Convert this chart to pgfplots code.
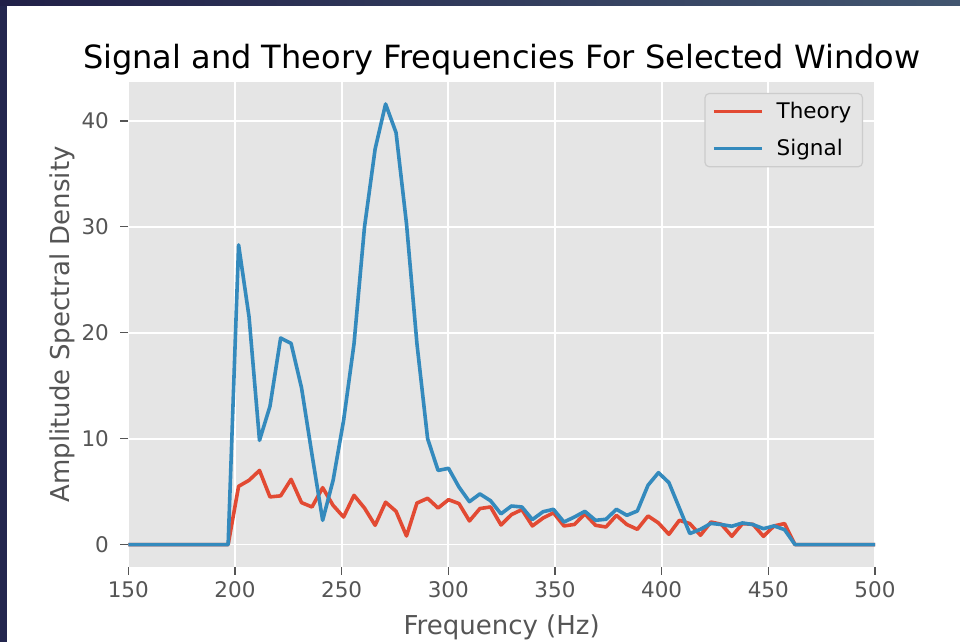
\documentclass[border=0pt]{standalone}
\usepackage{fontspec}
\setmainfont{DejaVu Sans}
\usepackage{pgfplots}
\usepackage{pgfplotstable}
\pgfplotsset{compat=1.18}
\definecolor{thred}{HTML}{E24A33}
\definecolor{sigblue}{HTML}{348ABD}
\definecolor{ggbg}{HTML}{E5E5E5}
\definecolor{ggtext}{HTML}{555555}
\definecolor{legedge}{HTML}{CCCCCC}
\definecolor{navyA}{RGB}{33,32,72}
\definecolor{navyB}{RGB}{66,86,112}
\definecolor{navyL}{RGB}{35,38,78}

\pgfplotstableread{
f      theory signal
147.6  0      0
196.8  0      0
201.7  5.50   28.30
206.6  6.07   21.50
211.5  7.00   9.84
216.4  4.50   13.05
221.4  4.60   19.50
226.3  6.16   19.00
231.2  3.96   14.80
236.1  3.55   8.50
241.1  5.37   2.29
246.0  3.70   6.07
250.9  2.60   11.70
255.8  4.65   18.96
260.7  3.45   29.96
265.7  1.82   37.36
270.6  4.00   41.60
275.5  3.14   38.90
280.4  0.81   30.30
285.3  3.92   18.96
290.3  4.37   10.00
295.2  3.45   7.00
300.1  4.24   7.20
305.0  3.87   5.43
309.9  2.23   4.05
314.8  3.40   4.78
319.8  3.55   4.14
324.7  1.85   2.90
329.6  2.83   3.64
334.5  3.30   3.55
339.4  1.76   2.36
344.4  2.50   3.10
349.3  3.00   3.33
354.2  1.76   2.13
359.1  1.90   2.60
364.0  2.90   3.14
369.0  1.82   2.29
373.9  1.66   2.39
378.8  2.76   3.33
383.7  1.89   2.76
388.6  1.44   3.17
393.6  2.70   5.60
398.5  2.04   6.79
403.4  0.97   5.85
408.3  2.29   3.45
413.2  1.98   1.04
418.2  0.88   1.44
423.1  2.13   2.00
428.0  1.91   1.89
432.9  0.78   1.73
437.9  1.98   2.04
442.8  1.91   1.89
447.7  0.78   1.50
452.7  1.76   1.76
457.6  1.98   1.41
462.5  0      0
502.0  0      0
}\datatable

\begin{document}
\begin{tikzpicture}
\useasboundingbox (0,0) rectangle (480pt,321pt);
\fill[white] (0,0) rectangle (480pt,321pt);
\fill[navyL] (0,0) rectangle (3.5pt,321pt);
\shade[left color=navyA, right color=navyB] (0,318pt) rectangle (480pt,321pt);
\begin{axis}[
  at={(64.15pt,37.7pt)}, anchor=south west,
  scale only axis, width=373.35pt, height=242.3pt,
  xmin=150, xmax=500, ymin=-2.08, ymax=43.68,
  xtick={150,200,...,500}, ytick={0,10,...,40},
  xtick pos=bottom, ytick pos=left,
  tick align=outside, major tick length=4pt,
  tick style={ggtext, line width=0.6pt},
  axis line style={draw=none},
  axis background/.style={fill=ggbg},
  grid=major, major grid style={white, line width=0.9pt},
  /pgf/number format/assume math mode=true,
  ticklabel style={font=\fontsize{10.75}{13}\selectfont, text=ggtext},
  xticklabel style={anchor=base, inner sep=0pt, yshift=-11.7pt},
  yticklabel style={anchor=east, inner sep=0pt, xshift=-5.5pt},
  title={Signal and Theory Frequencies For Selected Window},
  title style={at={(axis description cs:0.5,1)}, anchor=base, yshift=0.5pt, font=\fontsize{16}{19}\selectfont, text=black},
  xlabel={Frequency (Hz)},
  xlabel style={at={(axis description cs:0.5,0)}, anchor=base, yshift=-34.2pt, font=\fontsize{13}{16}\selectfont, text=ggtext},
  ylabel={Amplitude Spectral Density},
  ylabel style={at={(axis description cs:-0.0794,0.5)}, anchor=base, rotate=0, font=\fontsize{13}{16}\selectfont, text=ggtext},
  legend style={at={(axis description cs:1,1)}, anchor=north east, xshift=-6pt, yshift=-5.5pt,
    fill=ggbg, draw=legedge, rounded corners=2pt, line width=0.6pt,
    font=\fontsize{10.75}{13}\selectfont, text=black,
    inner xsep=3.5pt, inner ysep=2.2pt, row sep=4.8pt, column sep=4.5pt,
    nodes={inner sep=2pt}},
  legend cell align=left,
  legend image code/.code={\draw[#1] (0pt,0pt) -- (24pt,0pt);},
]
\addplot[thred, line width=1.8pt, line join=round] table[x=f, y=theory] {\datatable};
\addlegendentry{Theory}
\addplot[sigblue, line width=1.8pt, line join=round] table[x=f, y=signal] {\datatable};
\addlegendentry{Signal}
\end{axis}
\end{tikzpicture}
\end{document}
